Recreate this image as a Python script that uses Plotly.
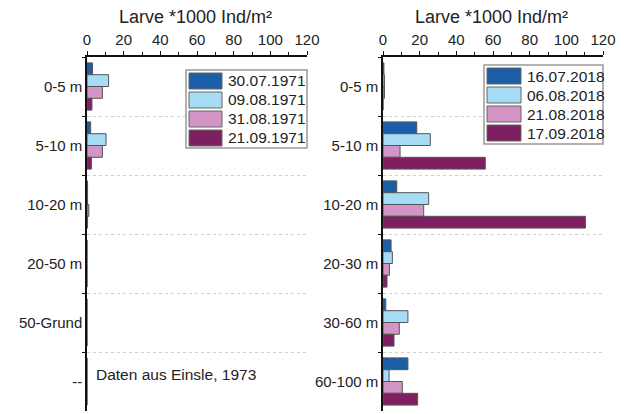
import plotly.graph_objects as go

W, H = 626, 414

# ---- data ----
cats_1971 = ["0-5 m", "5-10 m", "10-20 m", "20-50 m", "50-Grund", "--"]
dates_1971 = ["30.07.1971", "09.08.1971", "31.08.1971", "21.09.1971"]
v_300771 = [3.0, 2.0, 0.3, 0, 0, 0]
v_090871 = [11.8, 10.4, 0.3, 0, 0, 0]
v_310871 = [8.4, 8.4, 1.0, 0, 0, 0]
v_210971 = [2.7, 2.4, 0.3, 0, 0, 0]

cats_2018 = ["0-5 m", "5-10 m", "10-20 m", "20-30 m", "30-60 m", "60-100 m"]
dates_2018 = ["16.07.2018", "06.08.2018", "21.08.2018", "17.09.2018"]
v_160718 = [0.5, 18.4, 7.5, 4.4, 1.5, 13.6]
v_060818 = [0.8, 25.8, 24.9, 5.1, 13.6, 3.3]
v_210818 = [0.8, 9.3, 22.2, 3.5, 8.9, 10.5]
v_170918 = [0.0, 55.8, 110.4, 2.2, 6.0, 18.9]

x_ticks = [0, 20, 40, 60, 80, 100, 120]
title_text = "Larve *1000 Ind/m²"
note_text = "Daten aus Einsle, 1973"

colors = ["#1c5ea8", "#a6dcf5", "#d394c6", "#7e1f62"]
FONT = "Liberation Sans, Arial, sans-serif"

series_1971 = [v_300771, v_090871, v_310871, v_210971]
series_2018 = [v_160718, v_060818, v_210818, v_170918]

fig = go.Figure()
for name, vals, col in zip(dates_1971, series_1971, colors):
    fig.add_trace(go.Bar(x=vals, y=cats_1971, orientation="h", name=name,
                         marker=dict(color=col, line=dict(color="#555555", width=1)),
                         xaxis="x", yaxis="y", showlegend=False))
for name, vals, col in zip(dates_2018, series_2018, colors):
    fig.add_trace(go.Bar(x=vals, y=cats_2018, orientation="h", name=name,
                         marker=dict(color=col, line=dict(color="#555555", width=1)),
                         xaxis="x2", yaxis="y2", showlegend=False))

def px(x):
    return x / W

def py(y):
    return 1 - y / H

top, bottom = 57, 411
xcommon = dict(range=[0, 120], side="top", tickvals=x_ticks, ticks="outside", ticklen=4,
               tickwidth=1.2, tickcolor="#111", showline=True, linecolor="#111", linewidth=1.5,
               showgrid=False, zeroline=False, automargin=False,
               minor=dict(dtick=10, ticks="outside", ticklen=3, tickcolor="#111", tickwidth=1.2),
               tickfont=dict(family=FONT, size=15, color="#222"), ticklabelstandoff=0)
ycommon = dict(type="category", range=[5.5, -0.5], tickson="boundaries", ticks="outside",
               ticklen=3, tickcolor="#111", tickwidth=1.2, showline=True, linecolor="#111",
               linewidth=1.5, showgrid=True, gridcolor="#cfcfcf", griddash="dot", gridwidth=1,
               tickfont=dict(family=FONT, size=15, color="#222"), zeroline=False,
               automargin=False)

fig.update_layout(
    width=W, height=H, margin=dict(l=0, r=0, t=0, b=0),
    paper_bgcolor="white", plot_bgcolor="white",
    barmode="group", bargap=0.2, bargroupgap=0,
    xaxis=dict(domain=[px(87), px(307)], anchor="y", **xcommon),
    yaxis=dict(domain=[py(bottom), py(top)], anchor="x", categoryarray=cats_1971, **ycommon),
    xaxis2=dict(domain=[px(383), px(603)], anchor="y2", **xcommon),
    yaxis2=dict(domain=[py(bottom), py(top)], anchor="x2", categoryarray=cats_2018, **ycommon),
    font=dict(family=FONT),
)

annotations = [
    dict(text=title_text, x=px(195), y=py(17), xref="paper", yref="paper", showarrow=False,
         font=dict(family=FONT, size=18, color="#222"), xanchor="center", yanchor="middle"),
    dict(text=title_text, x=px(491), y=py(17), xref="paper", yref="paper", showarrow=False,
         font=dict(family=FONT, size=18, color="#222"), xanchor="center", yanchor="middle"),
    dict(text=note_text, x=px(94), y=py(374), xref="paper", yref="paper", showarrow=False,
         font=dict(family=FONT, size=15.5, color="#222"), xanchor="left", yanchor="middle"),
]
shapes = []

def add_legend(x0, y0, x1, y1, sw_x0, sw_x1, row_y0, pitch, names):
    shapes.append(dict(type="rect", xref="paper", yref="paper", x0=px(x0), x1=px(x1),
                       y0=py(y1), y1=py(y0), line=dict(color="#999999", width=1.5),
                       fillcolor="white", layer="above"))
    for i, (n, c) in enumerate(zip(names, colors)):
        ya = row_y0 + i * pitch
        yb = ya + 16
        shapes.append(dict(type="rect", xref="paper", yref="paper", x0=px(sw_x0), x1=px(sw_x1),
                           y0=py(yb), y1=py(ya), line=dict(color="#666666", width=1),
                           fillcolor=c, layer="above"))
        annotations.append(dict(text=n, x=px(sw_x1 + 4), y=py((ya + yb) / 2), xref="paper",
                                yref="paper", showarrow=False, xanchor="left", yanchor="middle",
                                font=dict(family=FONT, size=15.5, color="#222")))

add_legend(186, 70, 307, 148, 189, 222, 73, 19, dates_1971)
add_legend(484, 65, 603, 144, 487, 521, 68, 19, dates_2018)

fig.update_layout(annotations=annotations, shapes=shapes)
fig.write_html("out.html", config={"displayModeBar": False},
               post_script="document.body.style.margin='0';document.body.style.padding='0';")
